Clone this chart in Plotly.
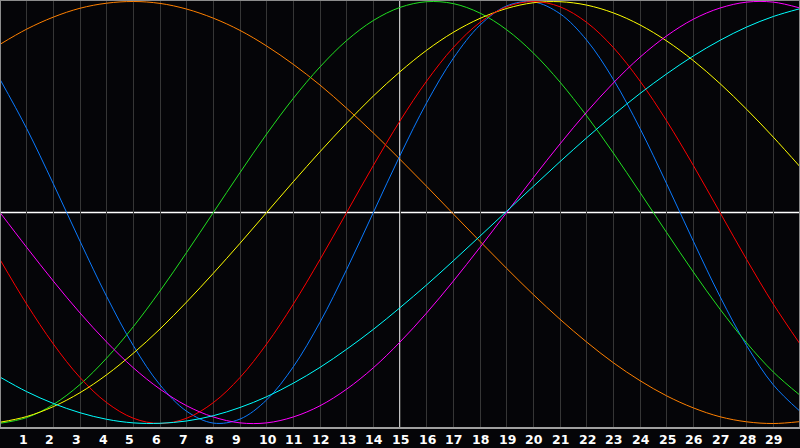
import plotly.graph_objects as go

days = list(range(0, 31))
labels = [str(d) for d in range(1, 30)]
today = 15

awareness_48 = [0.797, 0.869, 0.926, 0.968, 0.992, 1.0, 0.991, 0.964, 0.921, 0.863, 0.789, 0.702, 0.604, 0.494, 0.377, 0.252, 0.124, -0.007, -0.137, -0.265, -0.389, -0.506, -0.614, -0.712, -0.797, -0.869, -0.926, -0.968, -0.992, -1.0, -0.991]
physical_23 = [0.631, 0.398, 0.136, -0.136, -0.398, -0.631, -0.817, -0.942, -0.998, -0.979, -0.888, -0.731, -0.520, -0.270, 0.000, 0.270, 0.520, 0.731, 0.888, 0.979, 0.998, 0.942, 0.817, 0.631, 0.398, 0.136, -0.136, -0.398, -0.631, -0.817, -0.942]
intellectual_33 = [-0.999, -0.972, -0.910, -0.815, -0.690, -0.541, -0.372, -0.189, 0.000, 0.189, 0.372, 0.541, 0.690, 0.815, 0.910, 0.972, 0.999, 0.990, 0.945, 0.866, 0.756, 0.618, 0.458, 0.282, 0.095, -0.095, -0.282, -0.458, -0.618, -0.756, -0.866]
aesthetic_43 = [-0.994, -0.967, -0.920, -0.854, -0.769, -0.667, -0.552, -0.424, -0.288, -0.146, 0.000, 0.146, 0.288, 0.424, 0.552, 0.667, 0.769, 0.854, 0.920, 0.967, 0.994, 0.999, 0.983, 0.946, 0.889, 0.813, 0.720, 0.611, 0.489, 0.357, 0.217]
emotional_28 = [-0.223, -0.434, -0.623, -0.782, -0.901, -0.975, -1.0, -0.975, -0.901, -0.782, -0.623, -0.434, -0.223, 0.0, 0.223, 0.434, 0.623, 0.782, 0.901, 0.975, 1.0, 0.975, 0.901, 0.782, 0.623, 0.434, 0.223, 0.0, -0.223, -0.434, -0.623]
intuitive_38 = [0.0, -0.165, -0.325, -0.476, -0.614, -0.736, -0.837, -0.916, -0.969, -0.997, -0.997, -0.969, -0.916, -0.837, -0.736, -0.614, -0.476, -0.325, -0.165, 0.0, 0.165, 0.325, 0.476, 0.614, 0.736, 0.837, 0.916, 0.969, 0.997, 0.997, 0.969]
spiritual_53 = [-0.78, -0.849, -0.905, -0.949, -0.98, -0.997, -0.999, -0.988, -0.963, -0.924, -0.873, -0.809, -0.734, -0.648, -0.554, -0.451, -0.343, -0.229, -0.112, 0.006, 0.124, 0.241, 0.354, 0.462, 0.564, 0.657, 0.742, 0.816, 0.879, 0.929, 0.966]

series = [awareness_48, physical_23, intellectual_33, aesthetic_43, emotional_28, intuitive_38, spiritual_53]
colors = ["#ff8000", "#0a7aff", "#20e020", "#ffff00", "#ff0000", "#ff00ff", "#00ffff"]

fig = go.Figure()
for v, c in zip(series, colors):
    fig.add_trace(go.Scatter(x=days, y=v, mode="lines",
                             line=dict(color=c, width=1, shape="spline"), hoverinfo="skip"))

shapes = [
    dict(type="line", xref="paper", yref="y", x0=0, x1=1, y0=0, y1=0, line=dict(color="white", width=1.5), layer="below"),
    dict(type="line", xref="x", yref="paper", x0=today, x1=today, y0=0, y1=1, line=dict(color="white", width=1.5), layer="below"),
    dict(type="line", xref="paper", yref="paper", x0=0, x1=0, y0=0, y1=1, line=dict(color="#8c8c8c", width=2), layer="above"),
    dict(type="line", xref="paper", yref="paper", x0=0, x1=1, y0=1, y1=1, line=dict(color="#8c8c8c", width=2), layer="above"),
    dict(type="line", xref="paper", yref="paper", x0=1, x1=1, y0=0, y1=1, line=dict(color="#8c8c8c", width=2), layer="above"),
    dict(type="line", xref="paper", yref="paper", x0=0, x1=1, y0=0, y1=0, line=dict(color="#a0a0a0", width=2), layer="above"),
]

ann = []
for i, t in enumerate(labels):
    ann.append(dict(x=i + 1, y=0, xref="x", yref="paper", text="<b>" + t + "</b>", showarrow=False,
                    xanchor="left", yanchor="middle", xshift=-10, yshift=-11.5,
                    font=dict(family="DejaVu Sans", size=12.5, color="white")))

fig.update_layout(
    width=800, height=448, margin=dict(l=0, r=0, t=0, b=20, pad=0),
    paper_bgcolor="#050508", plot_bgcolor="#050508", showlegend=False,
    xaxis=dict(range=[0, 30], showgrid=True, dtick=1, tick0=0, gridcolor="#363636", gridwidth=1,
               showticklabels=False, zeroline=False, showline=False, ticks=""),
    yaxis=dict(range=[-1.0213, 1.0071], showgrid=False, showticklabels=False,
               zeroline=False, showline=False, ticks=""),
    shapes=shapes, annotations=ann,
)
fig.write_html("out.html", config={"displayModeBar": False},
               post_script="document.body.style.margin='0';document.body.style.background='#050508';")
